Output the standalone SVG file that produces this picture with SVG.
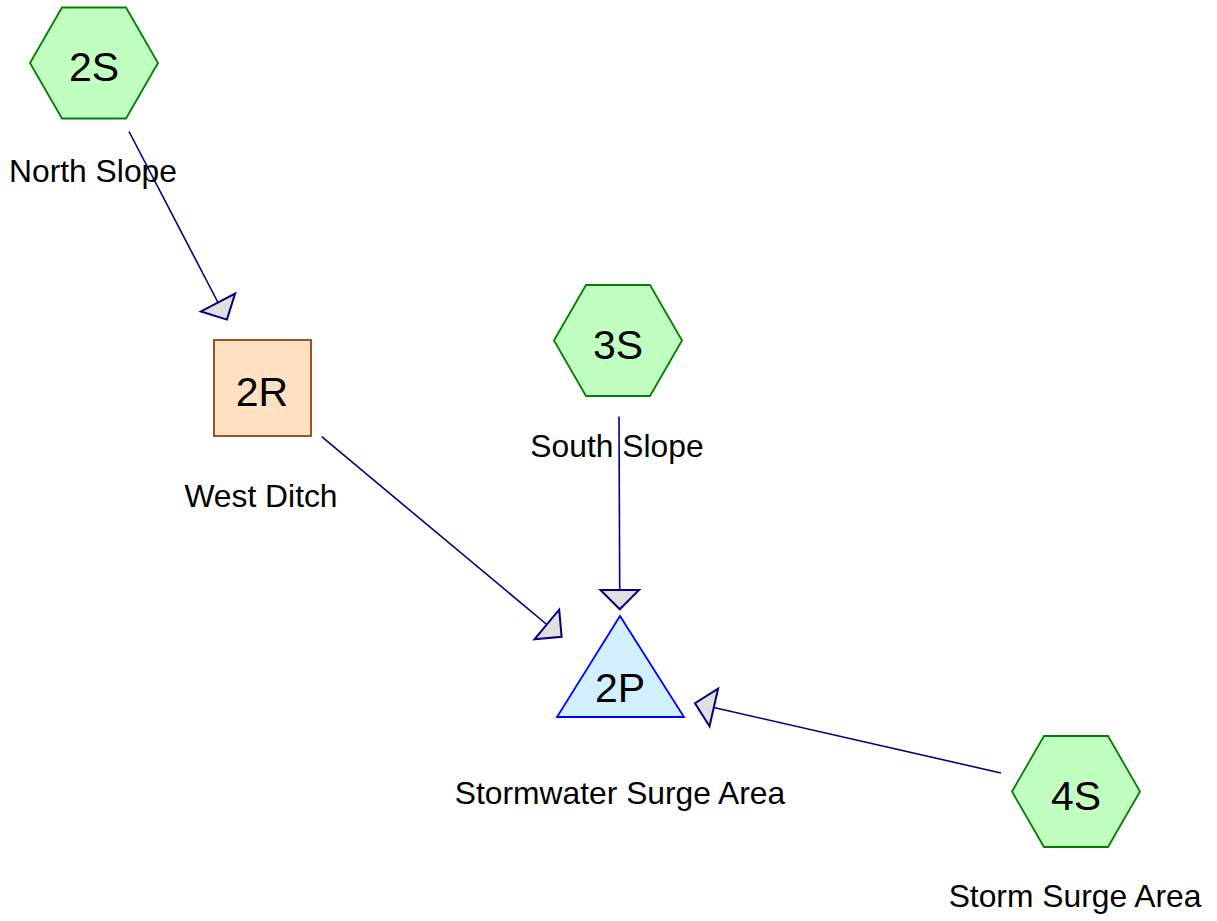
<svg xmlns="http://www.w3.org/2000/svg" width="1217" height="921" viewBox="0 0 1217 921">
<style>
  .hex { fill: #C0FFC0; stroke: #008000; stroke-width: 1.8; }
  .reach { fill: #FFE0C0; stroke: #8B4513; stroke-width: 1.8; }
  .pond { fill: #D0F0FF; stroke: #0000FF; stroke-width: 1.8; }
  .id { font-family: "Liberation Sans", Arial, sans-serif; font-size: 41px; fill: #000; text-anchor: middle; }
  .lbl { font-family: "Liberation Sans", Arial, sans-serif; font-size: 31.8px; fill: #000; text-anchor: middle; }
  .conn { stroke: #000080; stroke-width: 1.6; fill: none; marker-end: url(#arr); }
</style>
<defs>
  <marker id="arr" markerUnits="userSpaceOnUse" markerWidth="44" markerHeight="44" viewBox="-3 -22 26 44" refX="0" refY="0" orient="auto">
    <path d="M0,-19.3 L19.3,0 L0,19.3 Z" fill="#E0E0E0" stroke="#000080" stroke-width="2" stroke-linejoin="miter"/>
  </marker>
</defs>
<rect width="1217" height="921" fill="#fff"/>
<g id="connectors">
  <line class="conn" x1="129" y1="131.5" x2="218" y2="302.5"/>
  <line class="conn" x1="321.7" y1="436.7" x2="546.8" y2="624.5"/>
  <line class="conn" x1="619" y1="416.5" x2="619.7" y2="590"/>
  <line class="conn" x1="1001" y1="773" x2="713.8" y2="707.5"/>
</g>
<g id="node-2S">
  <polygon class="hex" points="30,63 62,7.5 126,7.5 158,63 126,118.5 62,118.5"/>
  <text class="id" x="94" y="81">2S</text>
  <text class="lbl" x="93" y="182">North Slope</text>
</g>
<g id="node-2R">
  <rect class="reach" x="214" y="340" width="97" height="96"/>
  <text class="id" x="262" y="406">2R</text>
  <text class="lbl" x="261" y="507">West Ditch</text>
</g>
<g id="node-3S">
  <polygon class="hex" points="554,340.5 586,285 650,285 682,340.5 650,396 586,396"/>
  <text class="id" x="618" y="359">3S</text>
  <text class="lbl" x="617" y="457">South Slope</text>
</g>
<g id="node-2P">
  <polygon class="pond" points="620,616 557,717 684,717"/>
  <text class="id" x="620" y="702">2P</text>
  <text class="lbl" x="620" y="804">Stormwater Surge Area</text>
</g>
<g id="node-4S">
  <polygon class="hex" points="1012,791.5 1044,736 1108,736 1140,791.5 1108,847 1044,847"/>
  <text class="id" x="1076" y="810">4S</text>
  <text class="lbl" x="1075" y="907">Storm Surge Area</text>
</g>
</svg>
